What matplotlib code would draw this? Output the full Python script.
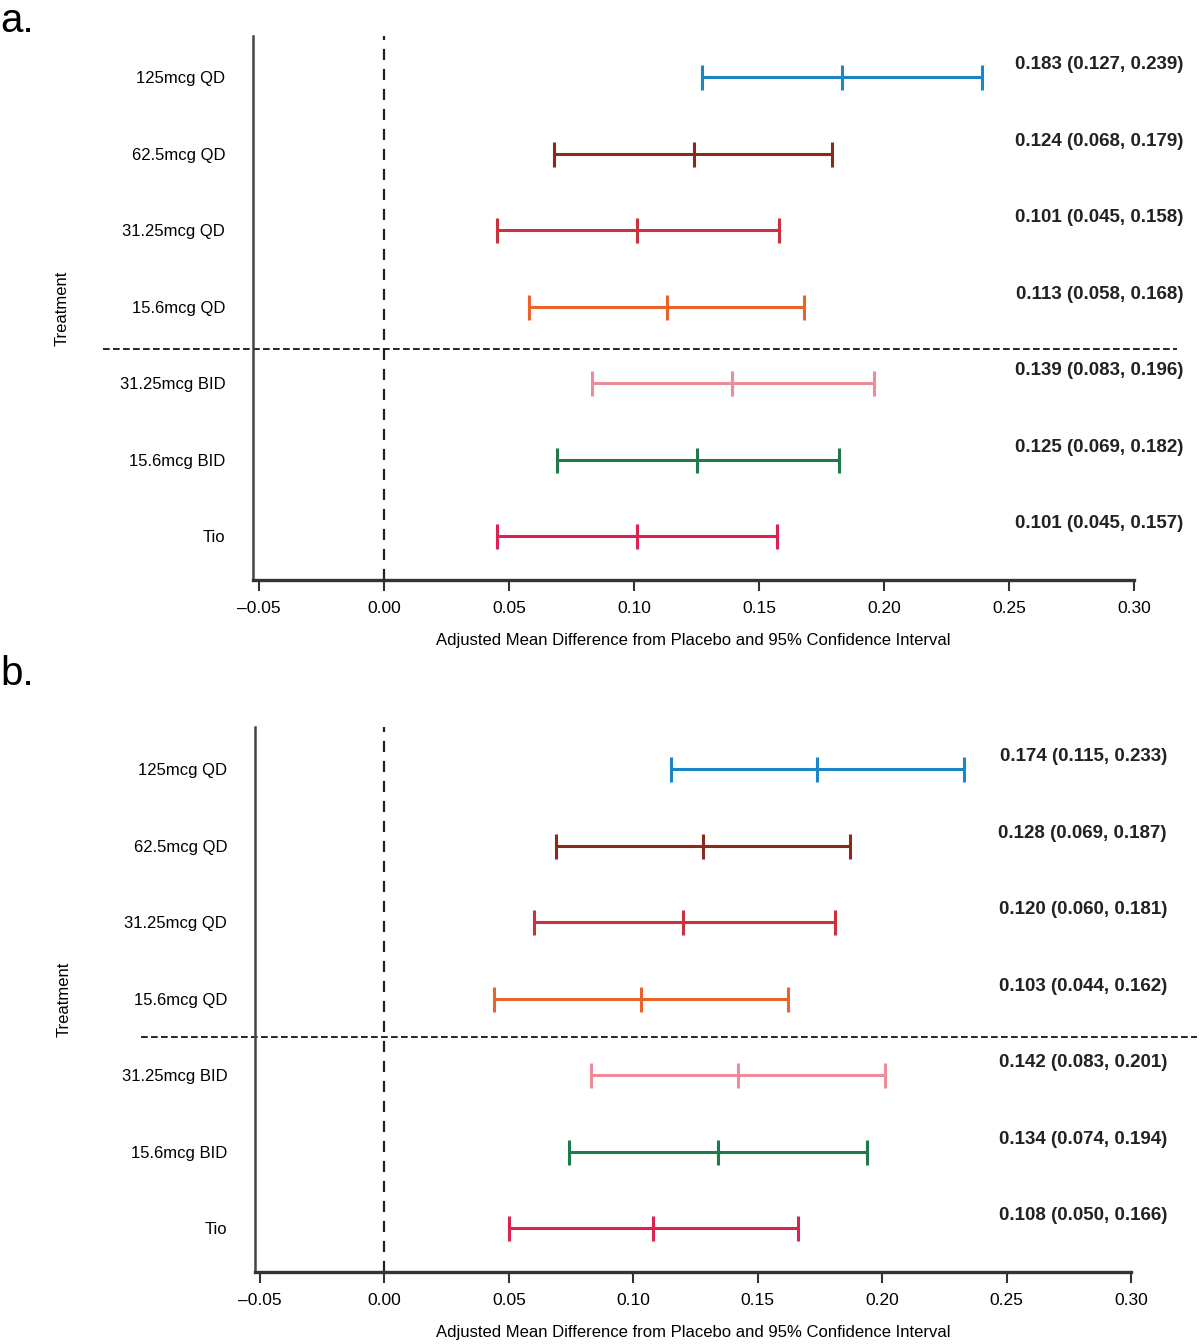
import numpy as np
import matplotlib.pyplot as plt

# treatments, top to bottom
treatments = ['125mcg QD', '62.5mcg QD', '31.25mcg QD', '15.6mcg QD',
              '31.25mcg BID', '15.6mcg BID', 'Tio']
colors = ['#1a86c8', '#8b2a1c', '#c8323e', '#e8642a', '#ef8c9c', '#1e7a4a', '#dc2250']

# panel a
mean_a = [0.183, 0.124, 0.101, 0.113, 0.139, 0.125, 0.101]
low_a = [0.127, 0.068, 0.045, 0.058, 0.083, 0.069, 0.045]
high_a = [0.239, 0.179, 0.158, 0.168, 0.196, 0.182, 0.157]

# panel b
mean_b = [0.174, 0.128, 0.120, 0.103, 0.142, 0.134, 0.108]
low_b = [0.115, 0.069, 0.060, 0.044, 0.083, 0.074, 0.050]
high_b = [0.233, 0.187, 0.181, 0.162, 0.201, 0.194, 0.166]

xticks = [-0.05, 0.00, 0.05, 0.10, 0.15, 0.20, 0.25, 0.30]

plt.rcParams['font.family'] = ['Liberation Sans', 'DejaVu Sans']

fig = plt.figure(figsize=(12, 13.44), dpi=100)


def draw_panel(ax, mean, low, high, xmin, ann_x, sep_x0, sep_x1, sep_y, ytop):
    n = len(mean)
    ypos = np.arange(n, 0, -1)
    for y, m, lo, hi, c in zip(ypos, mean, low, high, colors):
        ax.errorbar(m, y, xerr=[[m - lo], [hi - m]], fmt='|', color=c,
                    ecolor=c, elinewidth=2.2, capsize=9, capthick=2.2,
                    markersize=18, markeredgewidth=2.2)
        ax.text(ann_x, y + 0.16, '%.3f (%.3f, %.3f)' % (m, lo, hi),
                transform=ax.get_yaxis_transform(), ha='right', va='center',
                fontsize=13.5, fontweight='bold', color='#222222')
    ax.axvline(0, color='#222222', linestyle=(0, (5, 4)), linewidth=1.6)
    ax.plot([sep_x0, sep_x1], [sep_y, sep_y], transform=ax.get_yaxis_transform(),
            color='black', linestyle=(0, (4, 2)), linewidth=1.2, clip_on=False)
    ax.set_xlim(xmin, 0.30)
    ax.set_ylim(0.425, ytop)
    ax.set_xticks(xticks)
    ax.set_xticklabels(['\u20130.05' if t < 0 else '%.2f' % t for t in xticks], fontsize=12.5)
    ax.set_yticks(ypos)
    ax.set_yticklabels(treatments, fontsize=12)
    ax.tick_params(axis='y', length=0, pad=20)
    ax.tick_params(axis='x', length=8, width=1.5, color='#333333', pad=7)
    ax.spines['top'].set_visible(False)
    ax.spines['right'].set_visible(False)
    ax.spines['left'].set_color('#444444')
    ax.spines['left'].set_linewidth(1.8)
    ax.spines['bottom'].set_color('#333333')
    ax.spines['bottom'].set_linewidth(2.4)
    ax.set_xlabel('Adjusted Mean Difference from Placebo and 95% Confidence Interval',
                  fontsize=12, labelpad=12)
    ax.set_ylabel('Treatment', fontsize=12, labelpad=36)


# panel a: spine at x 253..1134, y 36..580
ax_a = fig.add_axes([253 / 1200, 1 - 580 / 1344, 881 / 1200, 544 / 1344])
draw_panel(ax_a, mean_a, low_a, high_a, -0.0524, 1.056, -0.170, 1.049, 3.45, 7.536)

# panel b: spine at x 255..1131, y 727..1272
ax_b = fig.add_axes([255 / 1200, 1 - 1272 / 1344, 876 / 1200, 545 / 1344])
draw_panel(ax_b, mean_b, low_b, high_b, -0.0520, 1.041, -0.130, 1.075, 3.5, 7.55)

fig.text(0.0, 1 - 2 / 1344, 'a.', fontsize=29, va='top', ha='left')
fig.text(0.0, 1 - 655 / 1344, 'b.', fontsize=29, va='top', ha='left')

fig.savefig('out.png', dpi=100)
